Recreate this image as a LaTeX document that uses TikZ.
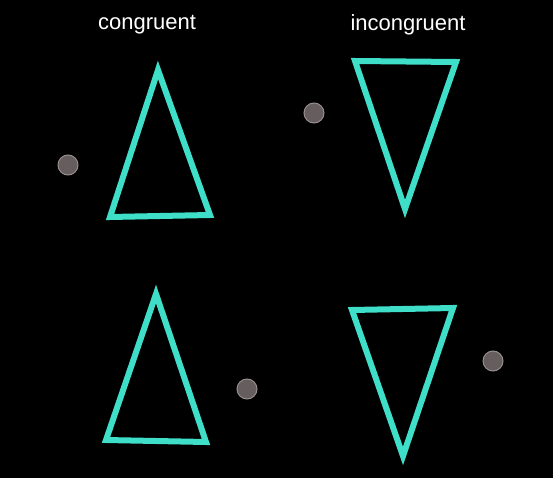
\documentclass[tikz,border=0pt]{standalone}
\usepackage{fontspec}
\setmainfont{Liberation Sans}
\usepackage{xcolor}
\definecolor{tricyan}{RGB}{62,222,200}
\definecolor{dotgray}{RGB}{102,94,94}
\definecolor{dotedge}{RGB}{150,142,142}

\begin{document}
\begin{tikzpicture}[x=1pt, y=-1pt,
      tri/.style={draw=tricyan, line width=6pt, line join=miter},
      cue/.style={draw=dotedge, line width=1pt, circle, fill=dotgray,
                  minimum size=20pt, inner sep=0pt},
      lbl/.style={text=white, font=\fontsize{22}{25}\selectfont}
    ]
    % background
    \fill[black] (0,0) rectangle (553,478);
    \useasboundingbox (0,0) rectangle (553,478);

    % labels
    \node[lbl] (congr) at (147,25) {congruent};
    \node[lbl] (incongr) at (408,25) {incongruent};

    % top row
    \draw[tri] (158,70) -- (110,217) -- (210,215) -- cycle;
    \node[cue] (dotA) at (68,165) {};

    \draw[tri] (355,61) -- (456,62) -- (405,209) -- cycle;
    \node[cue] (dotB) at (314,113) {};

    % bottom row
    \draw[tri] (156,294) -- (106,440) -- (206,442) -- cycle;
    \node[cue] (dotC) at (247,389) {};

    \draw[tri] (352,310) -- (453,308) -- (403,456) -- cycle;
    \node[cue] (dotD) at (493,361) {};
  \end{tikzpicture}
\end{document}
